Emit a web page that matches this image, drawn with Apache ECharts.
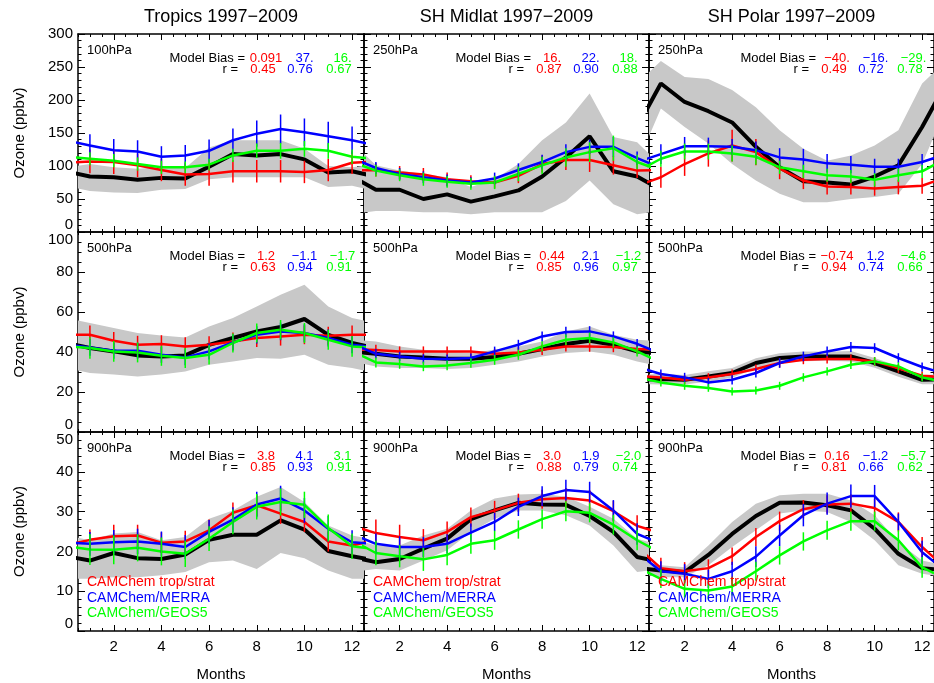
<!DOCTYPE html>
<html>
<head>
<meta charset="utf-8">
<script src="https://cdn.jsdelivr.net/npm/echarts@6/dist/echarts.min.js"></script>
<style>
  html, body { margin: 0; padding: 0; background: #fff; }
  #chart { width: 934px; height: 683px; }
</style>
</head>
<body>
<div id="chart"></div>
<script>
// ---- data (months 1..12) ----
const months = [1, 2, 3, 4, 5, 6, 7, 8, 9, 10, 11, 12]
const regionTitles = ['Tropics 1997\u22122009', 'SH Midlat 1997\u22122009', 'SH Polar 1997\u22122009']
const modelNames = ['CAMChem trop/strat', 'CAMChem/MERRA', 'CAMChem/GEOS5']
const xTickLabels = [2, 4, 6, 8, 10, 12]

// Tropics 100hPa
const t100Obs = [84, 83, 79, 82, 81, 99, 118, 116, 118, 110, 90, 92]
const t100Lo = [62, 60, 59, 64, 65, 80, 83, 83, 83, 83, 68, 70]
const t100Hi = [103, 98, 96, 98, 97, 128, 139, 139, 139, 126, 100, 98]
const t100Red = [107, 106, 101, 94, 87, 88, 92, 92, 92, 91, 94, 105]
const t100Blue = [131, 124, 122, 114, 116, 123, 139, 149, 156, 151, 145, 139]
const t100Green = [111, 108, 103, 98, 98, 102, 116, 123, 123, 126, 123, 114]
const t100RedErr = [18, 18, 18, 17, 17, 18, 17, 17, 17, 17, 17, 17]
const t100BlueErr = [17, 17, 17, 16, 16, 17, 18, 20, 22, 21, 22, 21]
const t100GreenErr = [10, 10, 10, 10, 9, 9, 10, 11, 12, 12, 12, 11]

// SH Midlat 250hPa
const m250Obs = [64, 64, 50, 57, 46, 54, 63, 84, 113, 145, 92, 84]
const m250Lo = [32, 32, 30, 30, 27, 30, 30, 30, 47, 78, 42, 27]
const m250Hi = [101, 93, 88, 83, 68, 80, 103, 139, 166, 210, 144, 136]
const m250Red = [94, 90, 87, 80, 77, 75, 85, 103, 109, 109, 101, 93]
const m250Blue = [97, 88, 83, 78, 75, 81, 94, 106, 121, 129, 129, 112]
const m250Green = [93, 86, 80, 76, 73, 75, 88, 101, 113, 121, 127, 106]
const m250RedErr = [10, 10, 10, 10, 9, 9, 11, 13, 15, 18, 14, 11]
const m250BlueErr = [9, 9, 9, 9, 8, 9, 10, 11, 12, 11, 15, 10]
const m250GreenErr = [9, 9, 10, 9, 9, 10, 11, 13, 14, 15, 19, 11]

// SH Polar 250hPa
const p250Obs = [225, 197, 183, 166, 129, 98, 77, 75, 72, 84, 101, 159]
const p250Lo = [187, 159, 134, 103, 78, 58, 45, 45, 50, 53, 58, 103]
const p250Hi = [259, 235, 232, 215, 189, 154, 126, 108, 116, 131, 154, 225]
const p250Red = [83, 103, 119, 131, 121, 96, 78, 69, 68, 66, 68, 70]
const p250Blue = [118, 130, 130, 129, 124, 113, 110, 104, 102, 99, 99, 106]
const p250Green = [111, 122, 122, 119, 114, 98, 92, 86, 84, 79, 86, 92]
const p250RedErr = [16, 18, 20, 24, 20, 16, 13, 12, 11, 11, 11, 12]
const p250BlueErr = [15, 14, 13, 12, 13, 14, 16, 14, 13, 12, 12, 12]
const p250GreenErr = [12, 12, 12, 12, 12, 10, 10, 10, 10, 10, 10, 10]

// Tropics 500hPa
const t500Obs = [42, 40.3, 38.3, 37.8, 38.3, 43.6, 47, 50.3, 52.5, 56.5, 48.6, 44.5]
const t500Lo = [29.5, 28.7, 27.8, 28.7, 30.3, 33.6, 35.3, 37, 36.6, 38.6, 33.6, 32]
const t500Hi = [54.5, 52, 49.5, 48.2, 47.3, 52.8, 57, 62.8, 68.6, 73.6, 62.8, 57]
const t500Red = [48.6, 45.6, 43.6, 44, 42.8, 43.6, 45.3, 47, 47.8, 48.6, 48.1, 48.6]
const t500Blue = [42.3, 40.6, 40.6, 38.6, 37.3, 40.3, 44.8, 48.6, 50.3, 49.5, 47, 43.6]
const t500Green = [42, 40.3, 39.8, 38.1, 37, 38.6, 44.5, 49.5, 51.1, 49.5, 46.1, 42.8]
const t500RedErr = [4.6, 4.4, 4.5, 4.4, 4.6, 4.3, 4.4, 4.5, 4.6, 4.7, 4.5, 4.6]
const t500BlueErr = [4.2, 4, 4, 4, 3.9, 4, 4.1, 4.3, 4.4, 4.4, 4.3, 4.2]
const t500GreenErr = [5.4, 5.2, 5, 5, 5, 4.8, 4.7, 4.8, 4.9, 5, 5, 5.2]

// SH Midlat 500hPa
const m500Obs = [39.1, 37.8, 37.3, 36.6, 36.6, 37.5, 39.1, 41.5, 44, 45.6, 43.6, 40.3]
const m500Lo = [32.8, 32, 32, 31.5, 32, 33.6, 35.3, 37.8, 39.5, 40.3, 38.6, 35.3]
const m500Hi = [45.3, 42.8, 41.1, 40.3, 39.5, 41.1, 42.8, 45.3, 50.3, 52.8, 48.6, 46.1]
const m500Red = [41, 40.3, 40.3, 40.3, 40.3, 39.1, 39.8, 41.1, 42.8, 42.8, 42.5, 41.5]
const m500Blue = [39.1, 37.8, 36.6, 36.5, 37, 40.3, 43.6, 47.8, 50, 50.3, 47.8, 44.1]
const m500Green = [34.8, 34, 32.8, 33.3, 34.5, 36.1, 38.6, 42.8, 46.1, 47, 44.8, 40.3]
const m500RedErr = [2.6, 2.5, 2.5, 2.4, 2.4, 2.5, 2.5, 2.6, 2.6, 2.7, 2.6, 2.5]
const m500BlueErr = [2.4, 2.3, 2.3, 2.3, 2.3, 2.4, 2.5, 2.5, 2.6, 2.6, 2.5, 2.4]
const m500GreenErr = [2.5, 2.4, 2.4, 2.4, 2.4, 2.5, 2.5, 2.6, 2.6, 2.7, 2.6, 2.5]

// SH Polar 500hPa
const p500Obs = [26.5, 26.1, 27.8, 29.5, 34.5, 37, 37.8, 37.8, 37.8, 34.5, 30.3, 26.1]
const p500Lo = [23.8, 23.8, 25.2, 27.1, 31.9, 34.6, 35.4, 35.6, 35.2, 32.1, 27.6, 23.9]
const p500Hi = [29.1, 28.5, 30.4, 32, 36.9, 39.4, 40.2, 40.1, 40.5, 37, 32.9, 28.4]
const p500Red = [27.3, 26.1, 27.3, 29, 31.5, 34.5, 36.1, 36.5, 36.5, 35.3, 31.8, 28.1]
const p500Blue = [29, 27.3, 24.8, 26.1, 29.5, 34.5, 37.8, 40.3, 42.5, 42, 37, 32.5]
const p500Green = [24.8, 23.1, 22, 20.3, 20.8, 23.1, 27.3, 30.3, 33.6, 35.3, 32.8, 27.3]
const p500RedErr = [2.2, 2.1, 2.1, 2.2, 2.2, 2.3, 2.2, 2.2, 2.3, 2.2, 2.2, 2.1]
const p500BlueErr = [2.3, 2.3, 2.2, 2.3, 2.3, 2.4, 2.4, 2.4, 2.5, 2.4, 2.4, 2.3]
const p500GreenErr = [2, 2, 1.9, 2, 2, 2, 2.1, 2.1, 2.1, 2.1, 2, 2]

// Tropics 900hPa
const t900Obs = [17.7, 19.6, 18.3, 18.1, 19.2, 22.9, 24.2, 24.2, 27.8, 25.5, 20.1, 18.8]
const t900Lo = [13.1, 13.5, 13.5, 14, 14.8, 17.3, 17.7, 15.6, 19.6, 18.3, 15.2, 13.1]
const t900Hi = [22.8, 24.5, 24.9, 22.8, 23.6, 28.2, 30.3, 33.7, 36.2, 32.4, 26.5, 24]
const t900Red = [22.9, 23.8, 24, 22.2, 22.5, 25.3, 29.7, 31.6, 29.5, 27.4, 22.5, 21.5]
const t900Blue = [21.9, 22.3, 22.5, 21.9, 21.1, 24.9, 28, 31.8, 33.3, 30.3, 25.7, 22.3]
const t900Green = [20.5, 20.4, 20.9, 20, 19.4, 23.2, 27.4, 31.2, 32.4, 31.7, 25.9, 21.3]
const t900RedErr = [2.6, 2.9, 2.7, 2.6, 2.7, 2.7, 2.6, 2.7, 2.6, 2.5, 2.5, 2.6]
const t900BlueErr = [3, 3.1, 3.2, 3.1, 3, 3, 3.1, 3.2, 3.2, 3.1, 3.2, 3]
const t900GreenErr = [3.9, 3.6, 3.4, 3.5, 3.3, 3.1, 3.1, 3.2, 3.4, 3.3, 3.4, 3.2]

// SH Midlat 900hPa
const m900Obs = [17.3, 18.1, 20.7, 23.2, 28.1, 30.3, 32.2, 31.8, 31.7, 28.9, 24.9, 18.6]
const m900Lo = [15.6, 15.2, 17.7, 20.3, 24.9, 28.2, 30.3, 30.3, 29.1, 26.5, 21.5, 14.8]
const m900Hi = [21.5, 21.5, 24, 25.7, 30.3, 33.3, 34.3, 34.5, 33.7, 31.2, 28.2, 23.2]
const m900Red = [24.6, 23.6, 22.8, 24.9, 28.6, 30.3, 32.2, 33.1, 33.4, 32.8, 30.1, 26.4]
const m900Blue = [21.9, 21.1, 21.1, 21.9, 24.7, 27.4, 31.2, 33.9, 35.4, 34.9, 30.3, 24.4]
const m900Green = [19.6, 18.8, 18, 19.1, 21.9, 22.8, 25.5, 28.1, 30.1, 29.7, 26.7, 22.8]
const m900RedErr = [3.4, 3.1, 2.8, 2.6, 2.4, 2.4, 2.3, 2.4, 2.5, 2.6, 2.6, 2.7]
const m900BlueErr = [2.6, 2.7, 2.5, 2.4, 2.3, 2.3, 2.3, 2.5, 2.6, 2.6, 2.6, 2.7]
const m900GreenErr = [3.1, 2.8, 2.9, 2.6, 2.5, 2.4, 2.3, 2.4, 2.5, 2.4, 2.5, 2.5]

// SH Polar 900hPa
const p900Obs = [15.2, 14.8, 19.1, 24.4, 28.9, 32.2, 32.3, 31.6, 30.3, 25.7, 19.4, 15.8]
const p900Lo = [13.5, 13.5, 16.5, 21.1, 25.3, 29.5, 30.3, 29.9, 27.4, 22.8, 16.5, 14.4]
const p900Hi = [16.5, 16, 21.5, 27.4, 32, 34.1, 34.5, 34.5, 32.8, 29.1, 22.3, 17.7]
const p900Red = [15.8, 15, 15.8, 18.8, 23.6, 27.6, 30.6, 31.8, 32, 30.9, 27.4, 21.1]
const p900Blue = [15, 14.4, 13.1, 15, 18.7, 24, 29.1, 32, 33.9, 33.9, 27.4, 19.8]
const p900Green = [13.1, 10.6, 10.2, 11.2, 15, 19, 22.5, 25.3, 27.6, 27.6, 22.8, 16]
const p900RedErr = [2.6, 2.3, 2.2, 2.2, 2.3, 2.4, 2.3, 2.3, 2.3, 2.3, 2.4, 2.5]
const p900BlueErr = [2.5, 2.4, 2.3, 2.4, 2.6, 2.7, 2.8, 2.8, 2.9, 2.8, 2.1, 2.9]
const p900GreenErr = [2.3, 2.2, 2.2, 2.3, 2.4, 2.3, 2.3, 2.4, 2.4, 2.4, 2.5, 2.6]

// bias / correlation strings (red, blue, green)
const t100Bias = ['0.091', '37.', '16.'], t100R = ['0.45', '0.76', '0.67']
const m250Bias = ['16.', '22.', '18.'], m250R = ['0.87', '0.90', '0.88']
const p250Bias = ['\u221240.', '\u221216.', '\u221229.'], p250R = ['0.49', '0.72', '0.78']
const t500Bias = ['1.2', '\u22121.1', '\u22121.7'], t500R = ['0.63', '0.94', '0.91']
const m500Bias = ['0.44', '2.1', '\u22121.2'], m500R = ['0.85', '0.96', '0.97']
const p500Bias = ['\u22120.74', '1.2', '\u22124.6'], p500R = ['0.94', '0.74', '0.66']
const t900Bias = ['3.8', '4.1', '3.1'], t900R = ['0.85', '0.93', '0.91']
const m900Bias = ['3.0', '1.9', '\u22122.0'], m900R = ['0.88', '0.79', '0.74']
const p900Bias = ['0.16', '\u22121.2', '\u22125.7'], p900R = ['0.81', '0.66', '0.62']

// ---- layout ----
const FONT = "'Liberation Sans', Arial, Helvetica, sans-serif"
const colLeft = [78, 364, 649]
const colWidth = [286, 285, 285]
const rowTop = [34, 232, 432]
const rowHeight = [198, 200, 199]
const rowMax = [300, 100, 50]
const rowStep = [50, 20, 10]
const rowMinor = [5, 4, 5]
const modelColors = ['#ff0000', '#0000ff', '#00ff00']

const panels = [
  { row: 0, col: 0, level: '100hPa', obs: t100Obs, lo: t100Lo, hi: t100Hi, models: [t100Red, t100Blue, t100Green], errs: [t100RedErr, t100BlueErr, t100GreenErr], bias: t100Bias, r: t100R },
  { row: 0, col: 1, level: '250hPa', obs: m250Obs, lo: m250Lo, hi: m250Hi, models: [m250Red, m250Blue, m250Green], errs: [m250RedErr, m250BlueErr, m250GreenErr], bias: m250Bias, r: m250R },
  { row: 0, col: 2, level: '250hPa', obs: p250Obs, lo: p250Lo, hi: p250Hi, models: [p250Red, p250Blue, p250Green], errs: [p250RedErr, p250BlueErr, p250GreenErr], bias: p250Bias, r: p250R },
  { row: 1, col: 0, level: '500hPa', obs: t500Obs, lo: t500Lo, hi: t500Hi, models: [t500Red, t500Blue, t500Green], errs: [t500RedErr, t500BlueErr, t500GreenErr], bias: t500Bias, r: t500R },
  { row: 1, col: 1, level: '500hPa', obs: m500Obs, lo: m500Lo, hi: m500Hi, models: [m500Red, m500Blue, m500Green], errs: [m500RedErr, m500BlueErr, m500GreenErr], bias: m500Bias, r: m500R },
  { row: 1, col: 2, level: '500hPa', obs: p500Obs, lo: p500Lo, hi: p500Hi, models: [p500Red, p500Blue, p500Green], errs: [p500RedErr, p500BlueErr, p500GreenErr], bias: p500Bias, r: p500R },
  { row: 2, col: 0, level: '900hPa', obs: t900Obs, lo: t900Lo, hi: t900Hi, models: [t900Red, t900Blue, t900Green], errs: [t900RedErr, t900BlueErr, t900GreenErr], bias: t900Bias, r: t900R },
  { row: 2, col: 1, level: '900hPa', obs: m900Obs, lo: m900Lo, hi: m900Hi, models: [m900Red, m900Blue, m900Green], errs: [m900RedErr, m900BlueErr, m900GreenErr], bias: m900Bias, r: m900R },
  { row: 2, col: 2, level: '900hPa', obs: p900Obs, lo: p900Lo, hi: p900Hi, models: [p900Red, p900Blue, p900Green], errs: [p900RedErr, p900BlueErr, p900GreenErr], bias: p900Bias, r: p900R }
]

// climatology wraps around: Dec before Jan, Jan after Dec (clipped by the axis)
function cyclic(arr) {
  return [[0, arr[11]]].concat(arr.map((v, i) => [months[i], v]), [[13, arr[0]]])
}

const halfMonths = []
for (let m = 0.5; m <= 12.5; m += 0.5) halfMonths.push(m)

const grids = []
const xAxes = []
const yAxes = []
const series = []
const texts = []

function xAxisDef(g, pos, values, len, withLabel, withLine) {
  return {
    type: 'value', gridIndex: g, position: pos, min: 0.5, max: 12.5,
    axisLine: { show: withLine, onZero: false, lineStyle: { color: '#000', width: 1.5 } },
    axisTick: { show: true, inside: true, length: len, customValues: values, lineStyle: { color: '#000', width: 1 } },
    axisLabel: { show: withLabel, customValues: xTickLabels, margin: 8, color: '#000', fontSize: 15, fontFamily: FONT },
    splitLine: { show: false }
  }
}

function yAxisDef(g, p, pos, withLabel) {
  return {
    type: 'value', gridIndex: g, position: pos, min: 0, max: rowMax[p.row], interval: rowStep[p.row],
    axisLine: { show: true, onZero: false, lineStyle: { color: '#000', width: 1.5 } },
    axisTick: { show: true, inside: true, length: 7, lineStyle: { color: '#000', width: 1 } },
    minorTick: { show: true, splitNumber: rowMinor[p.row], length: 3.5, lineStyle: { color: '#000', width: 1 } },
    axisLabel: {
      show: withLabel, color: '#000', fontSize: 15, fontFamily: FONT, margin: 5,
      verticalAlignMinLabel: 'bottom',
      verticalAlignMaxLabel: p.row === 0 ? 'middle' : 'top'
    },
    splitLine: { show: false }
  }
}

panels.forEach((p, g) => {
  const left = colLeft[p.col]
  const top = rowTop[p.row]
  grids.push({ left: left, top: top, width: colWidth[p.col], height: rowHeight[p.row], containLabel: false })

  const xi = xAxes.length
  xAxes.push(xAxisDef(g, 'bottom', xTickLabels, 6, p.row === 2, true))
  xAxes.push(xAxisDef(g, 'bottom', halfMonths, 3, false, false))
  xAxes.push(xAxisDef(g, 'top', xTickLabels, 6, false, true))
  xAxes.push(xAxisDef(g, 'top', halfMonths, 3, false, false))

  const yi = yAxes.length
  yAxes.push(yAxisDef(g, p, 'left', p.col === 0))
  yAxes.push(yAxisDef(g, p, 'right', false))

  const common = { xAxisIndex: xi, yAxisIndex: yi, symbol: 'none', silent: true, animation: false }

  // observed range: gray polygon between lo and hi, clipped to the panel
  series.push({
    type: 'custom', xAxisIndex: xi, yAxisIndex: yi, silent: true, animation: false, z: 1,
    data: [[6.5, p.lo[5]]],
    renderItem: (params, api) => {
      const upper = cyclic(p.hi).map(d => api.coord(d))
      const lower = cyclic(p.lo).map(d => api.coord(d)).reverse()
      const cs = params.coordSys
      return {
        type: 'polygon',
        shape: { points: upper.concat(lower) },
        style: { fill: '#c8c8c8' },
        clipPath: { type: 'rect', shape: { x: cs.x, y: cs.y, width: cs.width, height: cs.height } }
      }
    }
  })
  // observed mean
  series.push(Object.assign({}, common, {
    type: 'line', data: cyclic(p.obs), lineStyle: { color: '#000', width: 4 }, z: 2
  }))
  // models with error bars
  p.models.forEach((vals, k) => {
    series.push(Object.assign({}, common, {
      type: 'line', name: modelNames[k], data: cyclic(vals), lineStyle: { color: modelColors[k], width: 2.5 }, z: 3
    }))
    const err = p.errs[k]
    series.push({
      type: 'custom', xAxisIndex: xi, yAxisIndex: yi, silent: true, animation: false, z: 4,
      data: vals.map((v, i) => [months[i], v - err[i], v + err[i]]),
      encode: { x: 0, y: [1, 2] },
      renderItem: (params, api) => {
        const a = api.coord([api.value(0), api.value(1)])
        const b = api.coord([api.value(0), api.value(2)])
        return { type: 'line', shape: { x1: a[0], y1: a[1], x2: b[0], y2: b[1] }, style: { stroke: modelColors[k], lineWidth: 1.5 } }
      }
    })
  })

  // annotations
  const txt = (x, y, s, color, size, align) => ({
    type: 'text', x: x, y: y, silent: true, z: 10,
    style: { text: s, fill: color, font: size + 'px ' + FONT, textAlign: align, textVerticalAlign: 'middle' }
  })
  texts.push(txt(left + 9, top + 16, p.level, '#000', 13, 'left'))
  texts.push(txt(left + 167, top + 24, 'Model Bias =', '#000', 13, 'right'))
  texts.push(txt(left + 160, top + 35, 'r =', '#000', 13, 'right'))
  const biasX = [188, 226.5, 264.5]
  const rX = [185, 222, 261]
  for (let k = 0; k < 3; k++) {
    texts.push(txt(left + biasX[k], top + 24, p.bias[k], modelColors[k], 13, 'center'))
    texts.push(txt(left + rX[k], top + 35, p.r[k], modelColors[k], 13, 'center'))
  }
  if (p.row === 2) {
    const ly = [150, 166, 181]
    for (let k = 0; k < 3; k++) texts.push(txt(left + 9, top + ly[k], modelNames[k], modelColors[k], 14, 'left'))
  }
})

// column titles, x labels, y labels
for (let c = 0; c < 3; c++) {
  const cx = colLeft[c] + colWidth[c] / 2
  texts.push({ type: 'text', x: cx, y: 17, silent: true, style: { text: regionTitles[c], fill: '#000', font: '18px ' + FONT, textAlign: 'center', textVerticalAlign: 'middle' } })
  texts.push({ type: 'text', x: cx, y: 675, silent: true, style: { text: 'Months', fill: '#000', font: '15px ' + FONT, textAlign: 'center', textVerticalAlign: 'middle' } })
}
for (let r = 0; r < 3; r++) {
  texts.push({
    type: 'text', x: 20, y: rowTop[r] + rowHeight[r] / 2, rotation: Math.PI / 2, silent: true,
    style: { text: 'Ozone (ppbv)', fill: '#000', font: '15px ' + FONT, textAlign: 'center', textVerticalAlign: 'middle' }
  })
}

const chart = echarts.init(document.getElementById('chart'), null, { renderer: 'canvas' })
chart.setOption({
  backgroundColor: '#fff',
  animation: false,
  grid: grids,
  xAxis: xAxes,
  yAxis: yAxes,
  series: series,
  graphic: { elements: texts }
})
window.addEventListener('resize', () => chart.resize())
</script>
</body>
</html>
